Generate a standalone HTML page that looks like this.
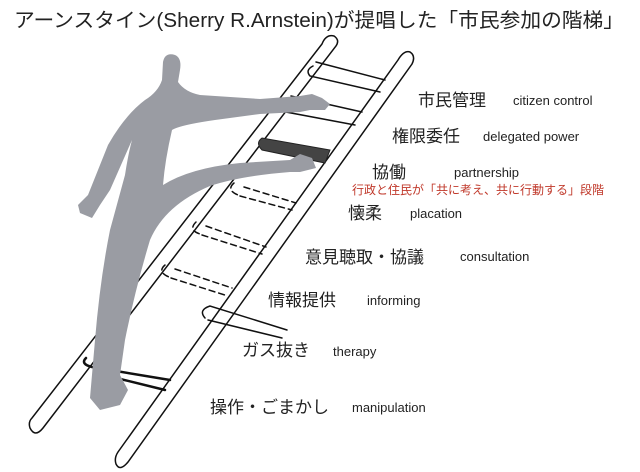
<!DOCTYPE html>
<html><head><meta charset="utf-8"><style>
html,body{margin:0;padding:0;background:#fff}
svg{display:block}
text{font-family:"Liberation Sans","Noto Sans CJK JP",sans-serif;fill:#222}
</style></head><body>
<svg width="640" height="472" viewBox="0 0 640 472" xmlns="http://www.w3.org/2000/svg">
<rect width="640" height="472" fill="#fff"/>
<text x="14" y="27" font-size="20" textLength="610" lengthAdjust="spacingAndGlyphs">アーンスタイン(Sherry R.Arnstein)が提唱した「市民参加の階梯」</text>
<g fill="none" stroke="#111" stroke-width="1.5" stroke-linecap="round">
<path d="M322,44 Q326,34 334,36 Q340,40 336,46 L43,428 Q35,438 30,428 Q28,422 32,418 Z" fill="#fff"/>
<path d="M398,60 Q404,50 410,52 Q416,56 412,64 L128,462 Q120,472 116,464 Q114,458 118,452 Z" fill="#fff"/>
<path d="M313,66 Q305,70 310,76 L380,92 M316,62 L385,80"/>
<path d="M288,100 Q280,105 286,112 L355,125 M291,96 L362,112"/>
<path d="M205,318 Q198,310 210,306 L287,330 M208,320 L282,338" />
<path d="M234,183 Q226,190 238,195 M244,187 L296,203 M240,196 L292,210" stroke-dasharray="6,4"/>
<path d="M196,222 Q188,230 200,234 M206,226 L266,247 M202,235 L262,254" stroke-dasharray="6,4"/>
<path d="M165,265 Q157,272 169,277 M175,269 L232,288 M171,278 L228,296" stroke-dasharray="6,4"/>
<path d="M86,358 Q80,364 92,367 L170,380 M100,374 L165,390" stroke-width="2.5"/>
</g>
<path d="M262,138 Q255,143 262,150 L325,163 L330,150 Z" fill="#444" stroke="#222" stroke-width="1"/>
<path fill="#9a9ca3" d="M163,62 Q165,52 175,55 Q182,58 180,70 L178,82 Q185,92 200,95 L260,99 L300,96 L312,94 L322,98 L330,104 L325,110 L310,110 L300,112 L260,114 L215,120 Q180,125 172,130 Q165,160 163,185 Q190,168 240,163 L290,160 L300,154 L312,158 L316,168 L300,172 L290,172 Q240,176 210,186 Q165,205 150,240 Q135,290 125,340 L120,375 L128,390 L120,405 L100,410 L90,398 L95,340 Q100,280 110,230 L125,175 Q128,155 132,140 L110,190 L100,205 L92,218 L80,213 L78,205 L88,195 L108,145 Q125,115 145,100 Q158,92 162,80 Z"/>
<g>
<text x="418" y="106" font-size="17">市民管理</text><text x="513" y="105" font-size="13">citizen control</text>
<text x="392" y="142" font-size="17">権限委任</text><text x="483" y="141" font-size="13">delegated power</text>
<text x="372" y="178" font-size="17">協働</text><text x="454" y="177" font-size="13">partnership</text>
<text x="352" y="194" font-size="12" style="fill:#c0392b">行政と住民が「共に考え、共に行動する」段階</text>
<text x="348" y="219" font-size="17">懐柔</text><text x="410" y="218" font-size="13">placation</text>
<text x="305" y="263" font-size="17">意見聴取・協議</text><text x="460" y="261" font-size="13">consultation</text>
<text x="268" y="306" font-size="17">情報提供</text><text x="367" y="305" font-size="13">informing</text>
<text x="242" y="356" font-size="17">ガス抜き</text><text x="333" y="356" font-size="13">therapy</text>
<text x="210" y="413" font-size="17">操作・ごまかし</text><text x="352" y="412" font-size="13">manipulation</text>
</g>
</svg>
</body></html>
